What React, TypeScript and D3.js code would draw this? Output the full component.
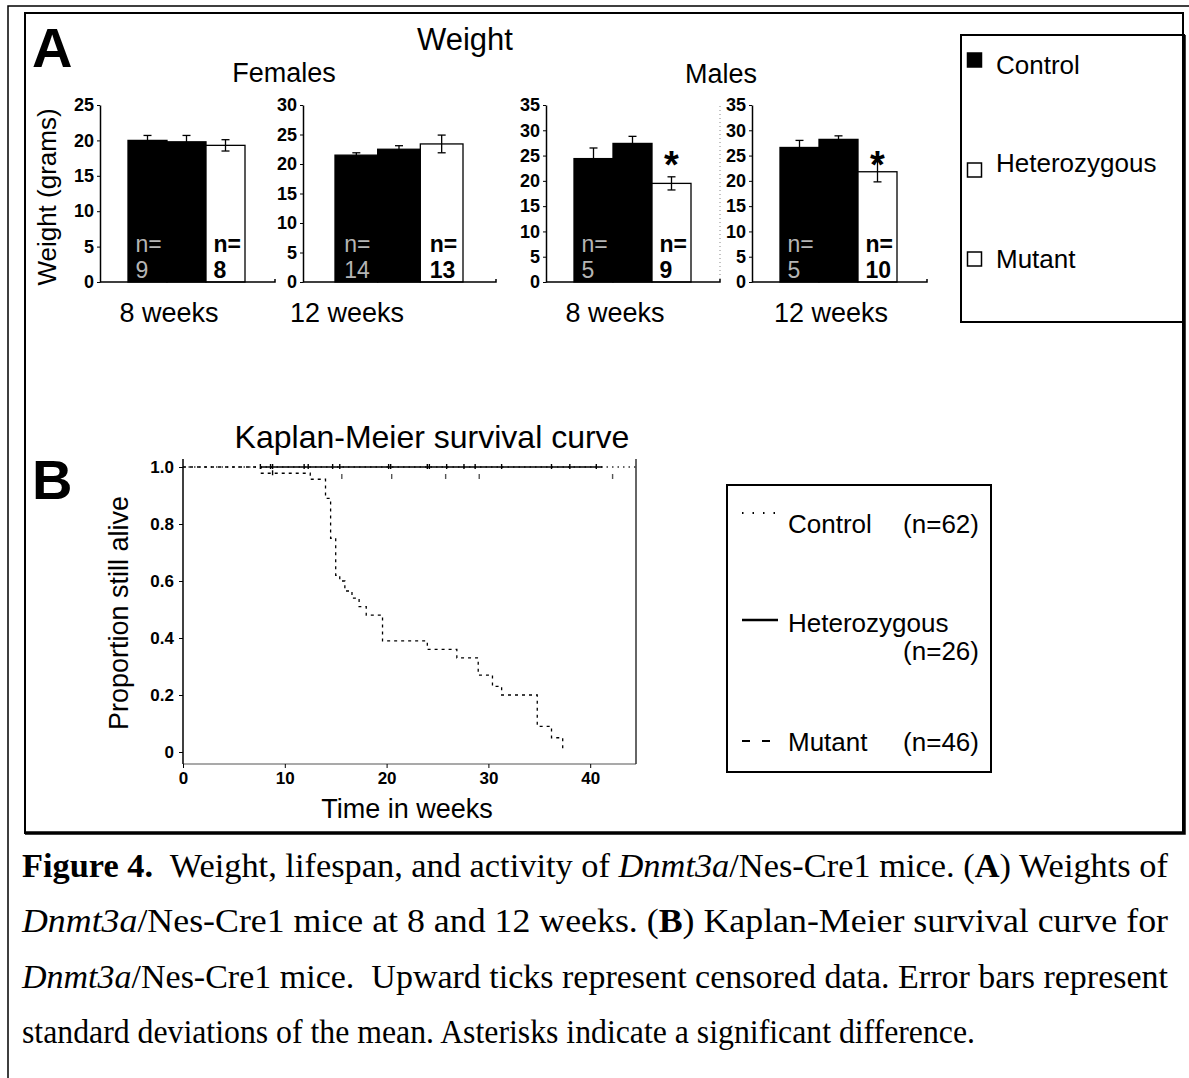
import React, { useEffect, useRef } from 'react';
import * as d3 from 'd3';

const WIDTH = 1189;
const HEIGHT = 1078;
const SANS = "'Liberation Sans', Arial, Helvetica, sans-serif";
const SERIF = "'Liberation Serif', 'Times New Roman', serif";

// genotypes
const groups = ['Control', 'Heterozygous', 'Mutant'];
const barFill = ['#000', '#000', '#fff'];
const legendFill = ['#000', '#fff', '#fff'];

// weights in grams (mean, SD, n)
const female8Mean = [20.0, 19.8, 19.3];
const female8Sd = [0.7, 0.9, 0.8];
const female8N = ['9', '', '8'];
const female12Mean = [21.5, 22.5, 23.4];
const female12Sd = [0.4, 0.6, 1.5];
const female12N = ['14', '', '13'];
const male8Mean = [24.4, 27.4, 19.5];
const male8Sd = [2.1, 1.4, 1.3];
const male8N = ['5', '', '9'];
const male12Mean = [26.6, 28.2, 21.8];
const male12Sd = [1.4, 0.7, 2.0];
const male12N = ['5', '', '10'];

const female8Ticks = [0, 5, 10, 15, 20, 25];
const female12Ticks = [0, 5, 10, 15, 20, 25, 30];
const male8Ticks = [0, 5, 10, 15, 20, 25, 30, 35];
const male12Ticks = [0, 5, 10, 15, 20, 25, 30, 35];
const ageLabels = ['8 weeks', '12 weeks', '8 weeks', '12 weeks'];
const significant = [false, false, true, true];

// Kaplan-Meier (weeks, proportion alive)
const mutantWeeks = [0, 7.7, 12.5, 14.0, 14.5, 15.0, 15.4, 15.9, 16.6, 17.3, 18.0, 19.6, 24.0, 26.9, 29.0, 30.4, 31.3, 34.8, 36.2, 37.3];
const mutantAlive = [1.0, 0.978, 0.957, 0.89, 0.75, 0.62, 0.6, 0.565, 0.54, 0.51, 0.48, 0.39, 0.36, 0.33, 0.27, 0.23, 0.2, 0.09, 0.05, 0.0];
const mutantCensorWeeks = [8.8];
const mutantCensorAlive = [0.978];
const hetWeeks = [7.7, 41.2];
const hetAlive = [1.0, 1.0];
const hetCensorWeeks = [7.6, 8.6, 8.8, 11.9, 12.3, 14.7, 15.4, 20.2, 20.4, 24.0, 24.2, 25.9, 27.6, 28.7, 31.3, 36.2, 38.0, 40.6];
const controlWeeks = [0, 44.5];
const controlAlive = [1.0, 1.0];
const controlCensorWeeks = [15.6, 20.5, 25.8, 29.1, 42.2];
const controlCensorAlive = [0.965, 0.965, 0.965, 0.965, 0.965];
const kmXTicks = [0, 10, 20, 30, 40];
const kmYTicks = [0, 0.2, 0.4, 0.6, 0.8, 1.0];
const kmLegend = ['Control', 'Heterozygous', 'Mutant'];
const kmLegendN = ['(n=62)', '(n=26)', '(n=46)'];

const captionLines = [
  [['Figure 4.', 'b'], ['  Weight, lifespan, and activity of ', ''], ['Dnmt3a', 'i'], ['/Nes-Cre1 mice. (', ''], ['A', 'b'], [') Weights of', '']],
  [['Dnmt3a', 'i'], ['/Nes-Cre1 mice at 8 and 12 weeks. (', ''], ['B', 'b'], [') Kaplan-Meier survival curve for', '']],
  [['Dnmt3a', 'i'], ['/Nes-Cre1 mice.  Upward ticks represent censored data. Error bars represent', '']],
  [['standard deviations of the mean. Asterisks indicate a significant difference.', '']],
];

const App = () => {
  const ref = useRef<SVGSVGElement | null>(null);

  useEffect(() => {
    const svg = d3.select(ref.current);
    svg.selectAll('*').remove();
    svg.append('rect').attr('width', WIDTH).attr('height', HEIGHT).attr('fill', '#fff');

    // outer frame
    svg.append('path').attr('d', `M8,${HEIGHT}V6H${WIDTH}`).attr('fill', 'none').attr('stroke', '#000').attr('stroke-width', 1.5);
    svg.append('rect').attr('x', 25).attr('y', 13).attr('width', 1158).attr('height', 820)
      .attr('fill', 'none').attr('stroke', '#000').attr('stroke-width', 2);
    svg.append('path').attr('d', 'M25,833H1184V35').attr('fill', 'none').attr('stroke', '#000').attr('stroke-width', 3.5);

    const txt = (x: number, y: number, s: string, size: number, opts: any = {}) =>
      svg.append('text').attr('x', x).attr('y', y).text(s)
        .attr('text-anchor', opts.anchor || 'start')
        .style('font-family', opts.family || SANS)
        .style('font-size', `${size}px`)
        .style('font-weight', opts.weight || 'normal')
        .style('fill', opts.fill || '#000');

    // ---------- Panel A ----------
    txt(32, 67, 'A', 56, { weight: 'bold' });
    txt(465, 50, 'Weight', 31, { anchor: 'middle' });
    txt(284, 82, 'Females', 27, { anchor: 'middle' });
    txt(721, 83, 'Males', 27, { anchor: 'middle' });
    svg.append('text').attr('transform', 'translate(56,197) rotate(-90)').attr('text-anchor', 'middle')
      .style('font-family', SANS).style('font-size', '26px').text('Weight (grams)');

    const panels = [
      { mean: female8Mean, sd: female8Sd, n: female8N, ticks: female8Ticks },
      { mean: female12Mean, sd: female12Sd, n: female12N, ticks: female12Ticks },
      { mean: male8Mean, sd: male8Sd, n: male8N, ticks: male8Ticks },
      { mean: male12Mean, sd: male12Sd, n: male12N, ticks: male12Ticks },
    ];
    const layout = [
      { x0: 100, x1: 275, padL: 28, padR: 30, labelX: 169 },
      { x0: 303, x1: 496, padL: 32, padR: 33, labelX: 347 },
      { x0: 546, x1: 720, padL: 28, padR: 29, labelX: 615 },
      { x0: 752, x1: 927, padL: 28, padR: 30, labelX: 831 },
    ];
    const baseY = 282;

    // faint dotted divider between male charts
    svg.append('line').attr('x1', 720).attr('x2', 720).attr('y1', 106).attr('y2', baseY)
      .attr('stroke', '#888').attr('stroke-dasharray', '1,3').attr('stroke-width', 1);

    panels.forEach((p, k) => {
      const L = layout[k];
      const y = d3.scaleLinear().domain([0, d3.max(p.ticks) as number]).range([baseY, 105]);
      const x = d3.scaleBand().domain(groups).range([L.x0 + L.padL, L.x1 - L.padR]).padding(0);
      const g = svg.append('g');

      g.selectAll('.bar').data(p.mean).enter().append('rect')
        .attr('x', (d, i) => x(groups[i]) as number)
        .attr('y', d => y(d))
        .attr('width', x.bandwidth())
        .attr('height', d => baseY - y(d))
        .attr('fill', (d, i) => barFill[i])
        .attr('stroke', '#000').attr('stroke-width', 1.3);

      // error bars
      p.mean.forEach((m, i) => {
        const cx = (x(groups[i]) as number) + x.bandwidth() / 2;
        g.append('line').attr('x1', cx).attr('x2', cx).attr('y1', y(m - p.sd[i])).attr('y2', y(m + p.sd[i]))
          .attr('stroke', '#000').attr('stroke-width', 1.3);
        [m - p.sd[i], m + p.sd[i]].forEach(v => {
          g.append('line').attr('x1', cx - 4).attr('x2', cx + 4).attr('y1', y(v)).attr('y2', y(v))
            .attr('stroke', '#000').attr('stroke-width', 1.3);
        });
        if (p.n[i]) {
          const light = i === 0;
          [['n=', 252], [p.n[i], 278]].forEach(([s, yy]) => {
            g.append('text').attr('x', cx - 12).attr('y', yy as number).text(s as string)
              .style('font-family', SANS).style('font-size', '23px')
              .style('font-weight', light ? 'normal' : 'bold')
              .style('fill', light ? '#b5b5b5' : '#000');
          });
        }
        if (i === 2 && significant[k]) {
          g.append('text').attr('x', cx).attr('y', 178).attr('text-anchor', 'middle').text('*')
            .style('font-family', SANS).style('font-size', '38px').style('font-weight', 'bold');
        }
      });

      // axes
      const yAxis = g.append('g').attr('transform', `translate(${L.x0},0)`)
        .call(d3.axisLeft(y).tickValues(p.ticks).tickSize(3).tickSizeOuter(0).tickPadding(3));
      yAxis.select('.domain').attr('stroke', '#000').attr('stroke-width', 1.5);
      yAxis.selectAll('.tick line').attr('stroke', '#000');
      yAxis.selectAll('text').style('font-family', SANS).style('font-size', '18px').style('font-weight', 'bold').attr('fill', '#000');

      g.append('path').attr('d', `M${L.x0},${baseY}H${L.x1}V${baseY - 3}`).attr('fill', 'none')
        .attr('stroke', '#000').attr('stroke-width', 1.5);

      txt(L.labelX, 322, ageLabels[k], 27, { anchor: 'middle' });
    });

    // legend A
    svg.append('rect').attr('x', 961).attr('y', 35).attr('width', 223).attr('height', 287)
      .attr('fill', 'none').attr('stroke', '#000').attr('stroke-width', 2);
    const legSquareY = [53, 163, 252];
    const legTextY = [74, 172, 268];
    groups.forEach((gname, i) => {
      svg.append('rect').attr('x', 967.5).attr('y', legSquareY[i]).attr('width', 14).attr('height', 14)
        .attr('fill', legendFill[i]).attr('stroke', '#000').attr('stroke-width', 1.5);
      txt(996, legTextY[i], gname, 26);
    });

    // ---------- Panel B ----------
    txt(32, 499, 'B', 56, { weight: 'bold' });
    txt(432, 448, 'Kaplan-Meier survival curve', 32, { anchor: 'middle' });

    const left = 183, right = 636, top = 459, bottom = 764;
    const kx = d3.scaleLinear().domain([0, 44.5]).range([left, right]);
    const ky = d3.scaleLinear().domain([0, 1]).range([752, 467]);
    const kg = svg.append('g');

    kg.append('line').attr('x1', left).attr('x2', right).attr('y1', bottom).attr('y2', bottom)
      .attr('stroke', '#555').attr('stroke-width', 1.2);
    kg.append('line').attr('x1', right).attr('x2', right).attr('y1', top).attr('y2', bottom)
      .attr('stroke', '#333').attr('stroke-width', 1.5);
    kg.append('line').attr('x1', left).attr('x2', left).attr('y1', top).attr('y2', bottom)
      .attr('stroke', '#000').attr('stroke-width', 1.5);

    const kyAxis = kg.append('g').attr('transform', `translate(${left},0)`)
      .call(d3.axisLeft(ky).tickValues(kmYTicks).tickSize(4).tickSizeOuter(0).tickPadding(5)
        .tickFormat(d => (+d === 0 ? '0' : d3.format('.1f')(+d))));
    kyAxis.select('.domain').remove();
    const kxAxis = kg.append('g').attr('transform', `translate(0,${bottom})`)
      .call(d3.axisBottom(kx).tickValues(kmXTicks).tickSize(4).tickSizeOuter(0).tickPadding(4));
    kxAxis.select('.domain').remove();
    [kyAxis, kxAxis].forEach(a => {
      a.selectAll('.tick line').attr('stroke', '#000');
      a.selectAll('text').style('font-family', SANS).style('font-size', '17px').style('font-weight', 'bold').attr('fill', '#000');
    });

    const step = d3.line<[number, number]>().x(d => kx(d[0])).y(d => ky(d[1])).curve(d3.curveStepAfter);
    const zipPts = (a: number[], b: number[]) => a.map((v, i) => [v, b[i]] as [number, number]);

    kg.append('path').attr('d', step(zipPts(controlWeeks, controlAlive)))
      .attr('fill', 'none').attr('stroke', '#333').attr('stroke-width', 1.3).attr('stroke-dasharray', '1.5,4');
    kg.append('path').attr('d', step(zipPts(hetWeeks, hetAlive)))
      .attr('fill', 'none').attr('stroke', '#000').attr('stroke-width', 1.6);
    kg.append('path').attr('d', step(zipPts(mutantWeeks, mutantAlive)))
      .attr('fill', 'none').attr('stroke', '#000').attr('stroke-width', 1.3).attr('stroke-dasharray', '3,4');

    const censor = (w: number[], a: number[], col: string) => {
      w.forEach((v, i) => {
        kg.append('line').attr('x1', kx(v)).attr('x2', kx(v)).attr('y1', ky(a[i]) + 2).attr('y2', ky(a[i]) - 3)
          .attr('stroke', col).attr('stroke-width', 1.4);
      });
    };
    censor(hetCensorWeeks, hetCensorWeeks.map(() => 1.0), '#000');
    censor(mutantCensorWeeks, mutantCensorAlive, '#000');
    censor(controlCensorWeeks, controlCensorAlive, '#555');

    svg.append('text').attr('transform', 'translate(128,613) rotate(-90)').attr('text-anchor', 'middle')
      .style('font-family', SANS).style('font-size', '27px').text('Proportion still alive');
    txt(407, 818, 'Time in weeks', 27, { anchor: 'middle' });

    // legend B
    svg.append('rect').attr('x', 727).attr('y', 485).attr('width', 264).attr('height', 287)
      .attr('fill', 'none').attr('stroke', '#000').attr('stroke-width', 2);
    const sampleY = [513, 620, 741];
    const sampleDash = ['1.5,9', null, '8,12'];
    const labelY = [533, 632, 751];
    const nY = [533, 660, 751];
    kmLegend.forEach((name, i) => {
      const ln = svg.append('line').attr('x1', 742).attr('x2', 778).attr('y1', sampleY[i]).attr('y2', sampleY[i])
        .attr('stroke', '#000').attr('stroke-width', i === 1 ? 2.5 : 2);
      if (sampleDash[i]) ln.attr('stroke-dasharray', sampleDash[i] as string);
      txt(788, labelY[i], name, 26);
      txt(979, nY[i], kmLegendN[i], 26, { anchor: 'end' });
    });

    // ---------- caption ----------
    const capY = [877, 932, 988, 1043];
    const capLen = [1146, 1146, 1146, 953];
    captionLines.forEach((line, li) => {
      const t = svg.append('text').attr('x', 22).attr('y', capY[li])
        .attr('textLength', capLen[li]).attr('lengthAdjust', 'spacingAndGlyphs')
        .style('font-family', SERIF).style('font-size', '34px').style('white-space', 'pre');
      line.forEach(([s, f]) => {
        t.append('tspan').text(s)
          .style('font-weight', f === 'b' ? 'bold' : 'normal')
          .style('font-style', f === 'i' ? 'italic' : 'normal');
      });
    });
  }, []);

  return (
    <svg
      ref={ref}
      width={WIDTH}
      height={HEIGHT}
      style={{ position: 'absolute', left: 0, top: 0, display: 'block' }}
    />
  );
};

export default App;
